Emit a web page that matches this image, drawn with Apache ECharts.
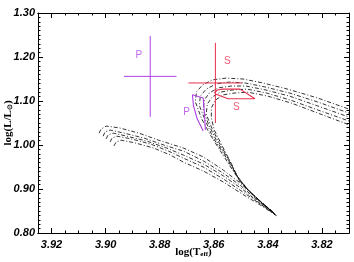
<!DOCTYPE html>
<html><head><meta charset="utf-8">
<script src="https://cdn.jsdelivr.net/npm/echarts@6/dist/echarts.min.js"></script>
<style>html,body{margin:0;padding:0;background:#fff}#c{width:354px;height:262px}</style>
</head><body><div id="c"></div>
<script>
// Tick labels
const xTicks = [3.82, 3.84, 3.86, 3.88, 3.90, 3.92];
const yTicks = [0.80, 0.90, 1.00, 1.10, 1.20, 1.30];

// Black dash-dot evolutionary tracks [logTeff, logL]
const track0 = [[3.9024,1.027],[3.9017,1.036],[3.8998,1.043],[3.8950,1.039],[3.8877,1.027],[3.8804,1.011],[3.8712,0.993],[3.8639,0.973],[3.8565,0.943],[3.8503,0.914],[3.8444,0.880],[3.8382,0.848],[3.8429,0.873],[3.8477,0.900],[3.8521,0.934],[3.8569,0.980],[3.8613,1.023],[3.8646,1.061],[3.8668,1.098],[3.8664,1.121],[3.8642,1.136],[3.8606,1.148],[3.8554,1.152],[3.8492,1.150],[3.8418,1.141],[3.8327,1.127],[3.8217,1.107],[3.8070,1.075]];
const track1 = [[3.9009,1.020],[3.9002,1.030],[3.8983,1.034],[3.8932,1.027],[3.8859,1.016],[3.8785,1.000],[3.8712,0.986],[3.8639,0.964],[3.8565,0.936],[3.8499,0.907],[3.8440,0.875],[3.8378,0.846],[3.8426,0.871],[3.8473,0.898],[3.8514,0.930],[3.8558,0.975],[3.8602,1.016],[3.8631,1.055],[3.8653,1.089],[3.8650,1.111],[3.8628,1.127],[3.8591,1.139],[3.8543,1.143],[3.8484,1.141],[3.8411,1.132],[3.8319,1.118],[3.8217,1.098],[3.8070,1.066]];
const track2 = [[3.8998,1.014],[3.8991,1.023],[3.8972,1.027],[3.8921,1.020],[3.8848,1.009],[3.8774,0.993],[3.8712,0.977],[3.8639,0.957],[3.8565,0.930],[3.8495,0.900],[3.8437,0.871],[3.8374,0.843],[3.8422,0.868],[3.8470,0.896],[3.8510,0.925],[3.8550,0.971],[3.8591,1.011],[3.8620,1.048],[3.8639,1.080],[3.8635,1.102],[3.8617,1.118],[3.8583,1.130],[3.8536,1.134],[3.8481,1.134],[3.8407,1.125],[3.8319,1.111],[3.8217,1.089],[3.8070,1.057]];
const track3 = [[3.8983,1.007],[3.8976,1.016],[3.8958,1.020],[3.8906,1.014],[3.8833,1.002],[3.8767,0.986],[3.8712,0.970],[3.8639,0.950],[3.8565,0.923],[3.8492,0.893],[3.8433,0.868],[3.8371,0.841],[3.8418,0.866],[3.8466,0.893],[3.8506,0.920],[3.8543,0.966],[3.8580,1.005],[3.8609,1.041],[3.8628,1.070],[3.8624,1.093],[3.8606,1.109],[3.8576,1.120],[3.8532,1.125],[3.8477,1.127],[3.8404,1.118],[3.8316,1.102],[3.8217,1.080],[3.8070,1.048]];
const track4 = [[3.8969,0.998],[3.8961,1.007],[3.8943,1.011],[3.8892,1.005],[3.8822,0.993],[3.8760,0.977],[3.8712,0.961],[3.8639,0.941],[3.8565,0.916],[3.8488,0.886],[3.8429,0.864],[3.8367,0.839],[3.8415,0.864],[3.8462,0.891],[3.8503,0.916],[3.8536,0.959],[3.8569,0.998],[3.8598,1.034],[3.8609,1.061],[3.8609,1.084],[3.8594,1.102],[3.8565,1.114],[3.8525,1.118],[3.8473,1.120],[3.8400,1.111],[3.8312,1.095],[3.8217,1.073],[3.8070,1.039]];

// Coloured tracks
const purpleTrack = [[3.8639,1.032],[3.8661,1.059],[3.8675,1.089],[3.8679,1.114],[3.8639,1.107],[3.8635,1.075],[3.8631,1.034]];
const redTrack = [[3.8598,1.118],[3.8587,1.125],[3.8569,1.127],[3.8503,1.127],[3.8448,1.105],[3.8547,1.105],[3.8594,1.116]];

// Observed positions with error bars: [logT, logL, errT, errL]
const starP = [3.8835, 1.156, 0.0097, 0.092];
const starS = [3.8594, 1.141, 0.0100, 0.091];

// Text labels: [text, logT, logL]
const purpleLabels = [['P', 3.8877, 1.2045], ['P', 3.8701, 1.075]];
const redLabels = [['S', 3.8550, 1.191], ['S', 3.8517, 1.0864]];

const PURPLE = '#b040e6';
const RED = '#e8304f';

const xMinor = [];
for (let v = 3.815; v < 3.9251; v += 0.005) {
  const r = Math.round(v * 1000) / 1000;
  if (!xTicks.some(t => Math.abs(t - r) < 1e-6)) xMinor.push(r);
}

const tickFont = {fontFamily: 'Liberation Sans', fontWeight: 'bold', fontStyle: 'italic', fontSize: 11, color: '#000'};
const titleRich = {
  n: {fontFamily: 'Liberation Serif', fontWeight: 'bold', fontSize: 11, color: '#000'},
  s: {fontFamily: 'Liberation Serif', fontWeight: 'bold', fontSize: 7, color: '#000', padding: [4, 0, 0, 0]}
};
const tickLine = {color: '#000', width: 1};

function xAx(pos, vals, len, labels, extra) {
  return Object.assign({
    type: 'value', gridIndex: 0, position: pos, min: 3.81, max: 3.925, inverse: true,
    axisLine: {show: true, onZero: false, lineStyle: {color: '#000', width: 1}},
    axisTick: {show: true, inside: true, length: len, customValues: vals, lineStyle: tickLine},
    axisLabel: labels ? Object.assign({show: true, customValues: vals, margin: 6, formatter: v => v.toFixed(2)}, tickFont) : {show: false},
    splitLine: {show: false}
  }, extra || {});
}
function yAx(pos, labels, extra) {
  return Object.assign({
    type: 'value', gridIndex: 0, position: pos, min: 0.8, max: 1.3, interval: 0.1,
    axisLine: {show: true, onZero: false, lineStyle: {color: '#000', width: 1}},
    axisTick: {show: true, inside: true, length: 5, lineStyle: tickLine},
    minorTick: {show: true, splitNumber: 10, length: 2.5, lineStyle: tickLine},
    axisLabel: labels ? Object.assign({show: true, margin: 3, formatter: v => v.toFixed(2)}, tickFont) : {show: false},
    splitLine: {show: false}, minorSplitLine: {show: false}
  }, extra || {});
}

const series = [];
[track0, track1, track2, track3, track4].forEach(t => series.push({
  type: 'line', data: t, showSymbol: false, symbol: 'none', z: 2,
  lineStyle: {color: '#000', width: 0.8, type: [4, 2, 1, 2]}
}));
series.push({type: 'line', data: purpleTrack, symbol: 'none', z: 3, lineStyle: {color: PURPLE, width: 1.1}});
series.push({type: 'line', data: redTrack, symbol: 'none', z: 3, lineStyle: {color: RED, width: 1.1}});
function cross(st, col) {
  series.push({type: 'line', symbol: 'none', z: 4, lineStyle: {color: col, width: 1},
    data: [[st[0] - st[2], st[1]], [st[0] + st[2], st[1]]]});
  series.push({type: 'line', symbol: 'none', z: 4, lineStyle: {color: col, width: 1},
    data: [[st[0], st[1] - st[3]], [st[0], st[1] + st[3]]]});
}
cross(starP, PURPLE);
cross(starS, RED);
function labels(arr, col) {
  series.push({type: 'scatter', symbolSize: 0, z: 5, silent: true,
    data: arr.map(a => ({name: a[0], value: [a[1], a[2]]})),
    label: {show: true, position: 'inside', formatter: p => p.name, color: col,
      fontFamily: 'Liberation Sans', fontSize: 10}});
}
labels(purpleLabels, PURPLE);
labels(redLabels, RED);

const chart = echarts.init(document.getElementById('c'), null, {renderer: 'canvas'});
chart.setOption({
  animation: false,
  backgroundColor: '#fff',
  grid: {left: 38, right: 5, top: 13, bottom: 29, containLabel: false, outerBoundsMode: 'none'},
  xAxis: [
    xAx('bottom', xTicks, 5, true, {name: '{n|log(T}{s|eff}{n|)}', nameLocation: 'middle', nameGap: 14, nameMoveOverlap: false, nameTextStyle: {rich: titleRich}}),
    xAx('top', xTicks, 5, false),
    xAx('bottom', xMinor, 2.5, false),
    xAx('top', xMinor, 2.5, false)
  ],
  yAxis: [
    yAx('left', true, {name: '{n|log(L/L}{s|⊙}{n|)}', nameLocation: 'middle', nameRotate: 90, nameGap: 24, nameMoveOverlap: false, nameTextStyle: {rich: titleRich}}),
    yAx('right', false)
  ],
  series: series
});
</script></body></html>
